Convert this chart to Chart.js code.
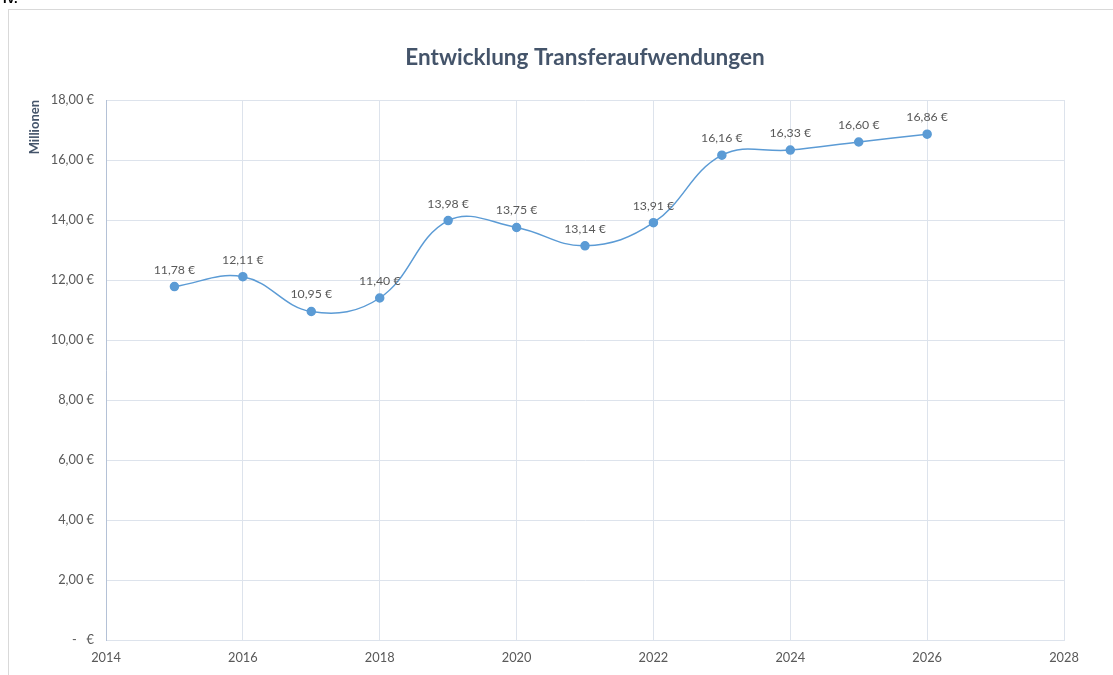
<!DOCTYPE html>
<html>
<head>
<meta charset="utf-8">
<script src="https://cdn.jsdelivr.net/npm/chart.js@4"></script>
<style>
html,body{margin:0;padding:0;background:#fff;overflow:hidden;}
#wrap{width:1113px;height:675px;position:relative;}
</style>
</head>
<body>
<div id="wrap"><canvas id="chart" width="1113" height="675"></canvas></div>
<script>
// data
const years = [2015,2016,2017,2018,2019,2020,2021,2022,2023,2024,2025,2026];
const values = [11.78,12.11,10.95,11.40,13.98,13.75,13.14,13.91,16.16,16.33,16.60,16.86];
const xMin = 2014, xMax = 2028, xStep = 2;
const yMin = 0, yMax = 18, yStep = 2;

const FONT = "Lato, 'Open Sans', sans-serif";
const textColor = "#595959";
const titleColor = "#44546a";

function euro(v){
  if(v === 0) return "-   €";
  return v.toFixed(2).replace(".", ",") + " €";
}

// frame + cut-off heading of the page
const framePlugin = {
  id:"frame",
  beforeDraw(chart){
    const c = chart.ctx;
    c.save();
    c.fillStyle = "#fff";
    c.fillRect(0,0,chart.width,chart.height);
    c.strokeStyle = "#d9d9d9";
    c.lineWidth = 1;
    c.strokeRect(8.5,9.5,1120,700);
    c.fillStyle = "#000";
    c.font = "bold 13px Arial";
    c.textBaseline = "alphabetic";
    c.fillText("IV.", 3, 3);
    c.restore();
  }
};

// value labels above the points
const labelPlugin = {
  id:"valueLabels",
  afterDatasetsDraw(chart){
    const c = chart.ctx;
    const meta = chart.getDatasetMeta(0);
    c.save();
    c.font = "12.3px " + FONT;
    c.fillStyle = textColor;
    c.textAlign = "center";
    c.textBaseline = "middle";
    meta.data.forEach((pt,i)=>{
      c.fillText(euro(values[i]), pt.x, pt.y - 17);
    });
    c.restore();
  }
};

const ctx = document.getElementById("chart").getContext("2d");

const chart = new Chart(ctx,{
type:"line",
data:{
datasets:[{
label:"Transferaufwendungen",
data:years.map((y,i)=>({x:y,y:values[i]})),
borderColor:"#5b9bd5",
backgroundColor:"#5b9bd5",
borderWidth:1.5,
pointRadius:4,
pointHoverRadius:4,
pointBackgroundColor:"#5b9bd5",
pointBorderColor:"#5b9bd5",
tension:0.4,
cubicInterpolationMode:"default"
}]
},
options:{
animation:false,
responsive:false,
events:[],
layout:{padding:{top:30,left:27,right:49,bottom:0}},
plugins:{
legend:{display:false},
tooltip:{enabled:false},
title:{
display:true,
text:"Entwicklung Transferaufwendungen",
fullSize:false,
color:titleColor,
font:{family:FONT,size:22.5,weight:"bold"},
padding:{top:14,bottom:29}
}
},
scales:{
x:{
type:"linear",
min:xMin,
max:xMax,
ticks:{
stepSize:xStep,
color:textColor,
font:{family:FONT,size:12.8},
padding:10,
maxRotation:0,
callback:v=>String(v)
},
grid:{color:"#dde3ec",drawTicks:false,lineWidth:1},
border:{display:true,color:"#dde3ec"},
afterFit:s=>{s.height = 35;}
},
y:{
min:yMin,
max:yMax,
ticks:{
stepSize:yStep,
color:textColor,
font:{family:FONT,size:12.8},
padding:12,
callback:v=>euro(v)
},
grid:{color:"#dde3ec",drawTicks:false,lineWidth:1},
border:{display:true,color:"#b4c1d6",width:1},
title:{
display:true,
text:"Millionen",
align:"end",
color:titleColor,
font:{family:FONT,size:13,weight:"bold"},
padding:{top:0,bottom:0}
},
afterFit:s=>{s.width = 79;}
}
}
},
plugins:[framePlugin,labelPlugin]
});
</script>
</body>
</html>
